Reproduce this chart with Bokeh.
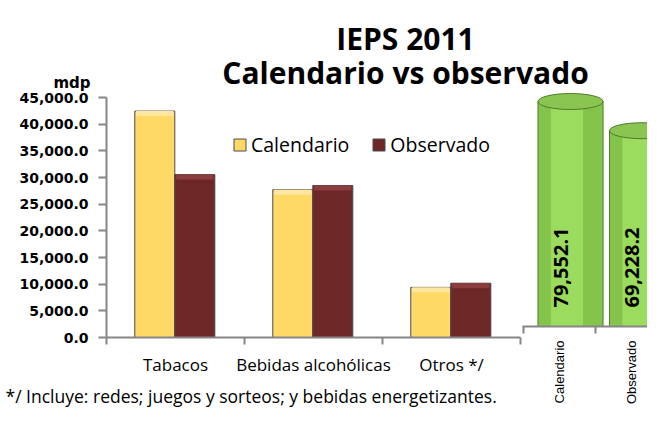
import math
from bokeh.plotting import figure
from bokeh.models import (Range1d, FixedTicker, NumeralTickFormatter, Legend,
                          LegendItem, Label, ColumnDataSource, LinearAxis)
from bokeh.transform import dodge
from bokeh.core.properties import value
from bokeh.embed import file_html
from bokeh.resources import INLINE

# ---------------- data ----------------
title_lines = ["IEPS 2011", "Calendario vs observado"]
unit_label = "mdp"
categories = ["Tabacos", "Bebidas alcohólicas", "Otros */"]
series_names = ["Calendario", "Observado"]
calendario = [42450, 27700, 9400]
observado = [30550, 28500, 10180]
y_ticks = [0, 5000, 10000, 15000, 20000, 25000, 30000, 35000, 40000, 45000]
total_names = ["Calendario", "Observado"]
totals = [79552.1, 69228.2]
footnote = "*/ Incluye: redes; juegos y sorteos; y bebidas energetizantes."

# ---------------- styles / layout constants (pixels) ----------------
COL_CAL = "#FFD966"
COL_CAL_HI = "#FFE7A2"
COL_OBS = "#6E2727"
COL_OBS_HI = "#8C3D3D"
EDGE = "#4a4a4a"
AXIS = "#868686"
GREEN_BODY = "#84C44B"
GREEN_HI = "#9BDC5E"
GREEN_TOP = "#8AC552"
GREEN_EDGE = "#4F7A2A"

W, H = 647, 408
L_X0 = 106            # px of left chart origin (from left)
L_Y0 = 71             # px of left chart baseline (from bottom)
UNIT_L = 138.0        # px per left category
PX_PER_Y_L = 240.0 / y_ticks[-1]
BEVEL_PX = 5.0
R_C0 = 559.0          # px of first right category centre
R_Y0 = 82             # px of right baseline (from bottom)
UNIT_R = 71.5
PX_PER_Y_R = 225.0 / totals[0]

n = len(categories)
m = len(totals)
centers = [i + 0.5 for i in range(n)]
tcenters = [i + 0.5 for i in range(m)]

x_start = -L_X0 / UNIT_L
y_start = -L_Y0 / PX_PER_Y_L
xr_start = tcenters[0] - R_C0 / UNIT_R
yr_start = -R_Y0 / PX_PER_Y_R

p = figure(width=W, height=H,
           x_range=Range1d(x_start, x_start + W / UNIT_L),
           y_range=Range1d(y_start, y_start + H / PX_PER_Y_L),
           output_backend="svg", toolbar_location=None, min_border=0,
           x_axis_location=None, y_axis_location=None, outline_line_color=None)
p.extra_x_ranges = {"r": Range1d(xr_start, xr_start + W / UNIT_R)}
p.extra_y_ranges = {"r": Range1d(yr_start, yr_start + H / PX_PER_Y_R)}
p.grid.visible = False

# ---------------- left bar chart ----------------
bev = BEVEL_PX / PX_PER_Y_L
src = ColumnDataSource(dict(x=centers, cal=calendario, obs=observado,
                            cal_b=[v - bev for v in calendario],
                            obs_b=[v - bev for v in observado]))
r1 = p.vbar(x=dodge("x", -0.15), top="cal", width=0.29, source=src,
            fill_color=COL_CAL, line_color=EDGE, line_width=1)
r2 = p.vbar(x=dodge("x", 0.14), top="obs", width=0.29, source=src,
            fill_color=COL_OBS, line_color=EDGE, line_width=1)
p.vbar(x=dodge("x", -0.15), top="cal", bottom="cal_b", width=0.27, source=src,
       fill_color=COL_CAL_HI, line_color=None)
p.vbar(x=dodge("x", 0.14), top="obs", bottom="obs_b", width=0.27, source=src,
       fill_color=COL_OBS_HI, line_color=None)

ya = LinearAxis(fixed_location=0, bounds=(0, y_ticks[-1]),
                ticker=FixedTicker(ticks=y_ticks, minor_ticks=[]),
                formatter=NumeralTickFormatter(format="0,0.0"))
ya.major_label_text_font = "DejaVu Sans"
ya.major_label_text_font_style = "bold"
ya.major_label_text_font_size = "14px"
ya.major_label_text_color = "black"
ya.major_label_standoff = 10
ya.axis_line_color = AXIS
ya.axis_line_width = 2
ya.major_tick_line_color = AXIS
ya.major_tick_line_width = 2
ya.major_tick_out = 8
ya.major_tick_in = 0
p.add_layout(ya, "left")

xa = LinearAxis(fixed_location=0, bounds=(0, n),
                ticker=FixedTicker(ticks=centers, minor_ticks=list(range(n + 1))))
xa.major_label_overrides = {c: name for c, name in zip(centers, categories)}
xa.major_label_text_font = "Open Sans"
xa.major_label_text_font_size = "17px"
xa.major_label_text_color = "black"
xa.major_label_standoff = 8
xa.axis_line_color = AXIS
xa.axis_line_width = 2
xa.major_tick_line_color = None
xa.major_tick_out = 0
xa.major_tick_in = 0
xa.minor_tick_line_color = AXIS
xa.minor_tick_line_width = 2
xa.minor_tick_out = 7
xa.minor_tick_in = 0
p.add_layout(xa, "below")

legend = Legend(items=[LegendItem(label=series_names[0], renderers=[r1]),
                       LegendItem(label=series_names[1], renderers=[r2])],
                orientation="horizontal", location=(232, 250), padding=0, margin=0,
                spacing=22, label_standoff=4, glyph_width=15, glyph_height=15,
                label_height=20, label_text_font="Open Sans", label_text_font_size="19.5px",
                label_text_color="black", border_line_color=None, background_fill_alpha=0)
p.add_layout(legend)

# ---------------- right cylinders ----------------
src2 = ColumnDataSource(dict(x=tcenters, v=totals, name=total_names,
                             lab=[f"{t:,.1f}" for t in totals]))
shift = 0.154
p.vbar(x=dodge("x", shift), top="v", width=0.91, source=src2,
       x_range_name="r", y_range_name="r",
       fill_color=GREEN_BODY, line_color=GREEN_EDGE, line_width=1)
p.vbar(x=dodge("x", shift - 0.05), top="v", width=0.45, source=src2,
       x_range_name="r", y_range_name="r", fill_color=GREEN_HI, line_color=None)
p.ellipse(x=dodge("x", shift), y="v", width=0.91, height=16, height_units="screen",
          source=src2, x_range_name="r", y_range_name="r",
          fill_color=GREEN_TOP, line_color=GREEN_EDGE, line_width=1)
p.text(x=dodge("x", 0.02), y=0, text="lab", source=src2,
       x_range_name="r", y_range_name="r",
       angle=math.pi / 2, y_offset=-19, text_align="left", text_baseline="middle",
       text_font=value("Open Sans"), text_font_style="bold", text_font_size="20px",
       text_color="black")

rax = LinearAxis(x_range_name="r", y_range_name="r", fixed_location=0,
                 bounds=(-0.02, xr_start + W / UNIT_R),
                 ticker=FixedTicker(ticks=tcenters, minor_ticks=list(range(m + 1))))
rax.major_label_overrides = {c: name for c, name in zip(tcenters, total_names)}
rax.major_label_orientation = math.pi / 2
rax.major_label_text_font = "Liberation Sans"
rax.major_label_text_font_size = "13px"
rax.major_label_text_color = "black"
rax.major_label_standoff = 7
rax.axis_line_color = AXIS
rax.axis_line_width = 2
rax.major_tick_line_color = None
rax.major_tick_out = 0
rax.major_tick_in = 0
rax.minor_tick_line_color = AXIS
rax.minor_tick_line_width = 2
rax.minor_tick_out = 7
rax.minor_tick_in = 0
p.add_layout(rax, "below")

# ---------------- titles and notes (screen px from bottom-left) ----------------
for txt, yy in zip(title_lines, [370, 336]):
    p.add_layout(Label(x=405, y=yy, x_units="screen", y_units="screen", text=txt,
                       text_font="Open Sans", text_font_style="bold", text_font_size="30px",
                       text_align="center", text_baseline="alphabetic", text_color="black"))
p.add_layout(Label(x=90, y=326, x_units="screen", y_units="screen", text=unit_label,
                   text_font="DejaVu Sans", text_font_style="bold", text_font_size="15px",
                   text_align="right", text_baseline="alphabetic", text_color="black"))
p.add_layout(Label(x=5, y=13, x_units="screen", y_units="screen", text=footnote,
                   text_font="Open Sans", text_font_size="17.5px", text_color="black",
                   text_baseline="alphabetic"))

open("out.html", "w").write(file_html(p, INLINE))
